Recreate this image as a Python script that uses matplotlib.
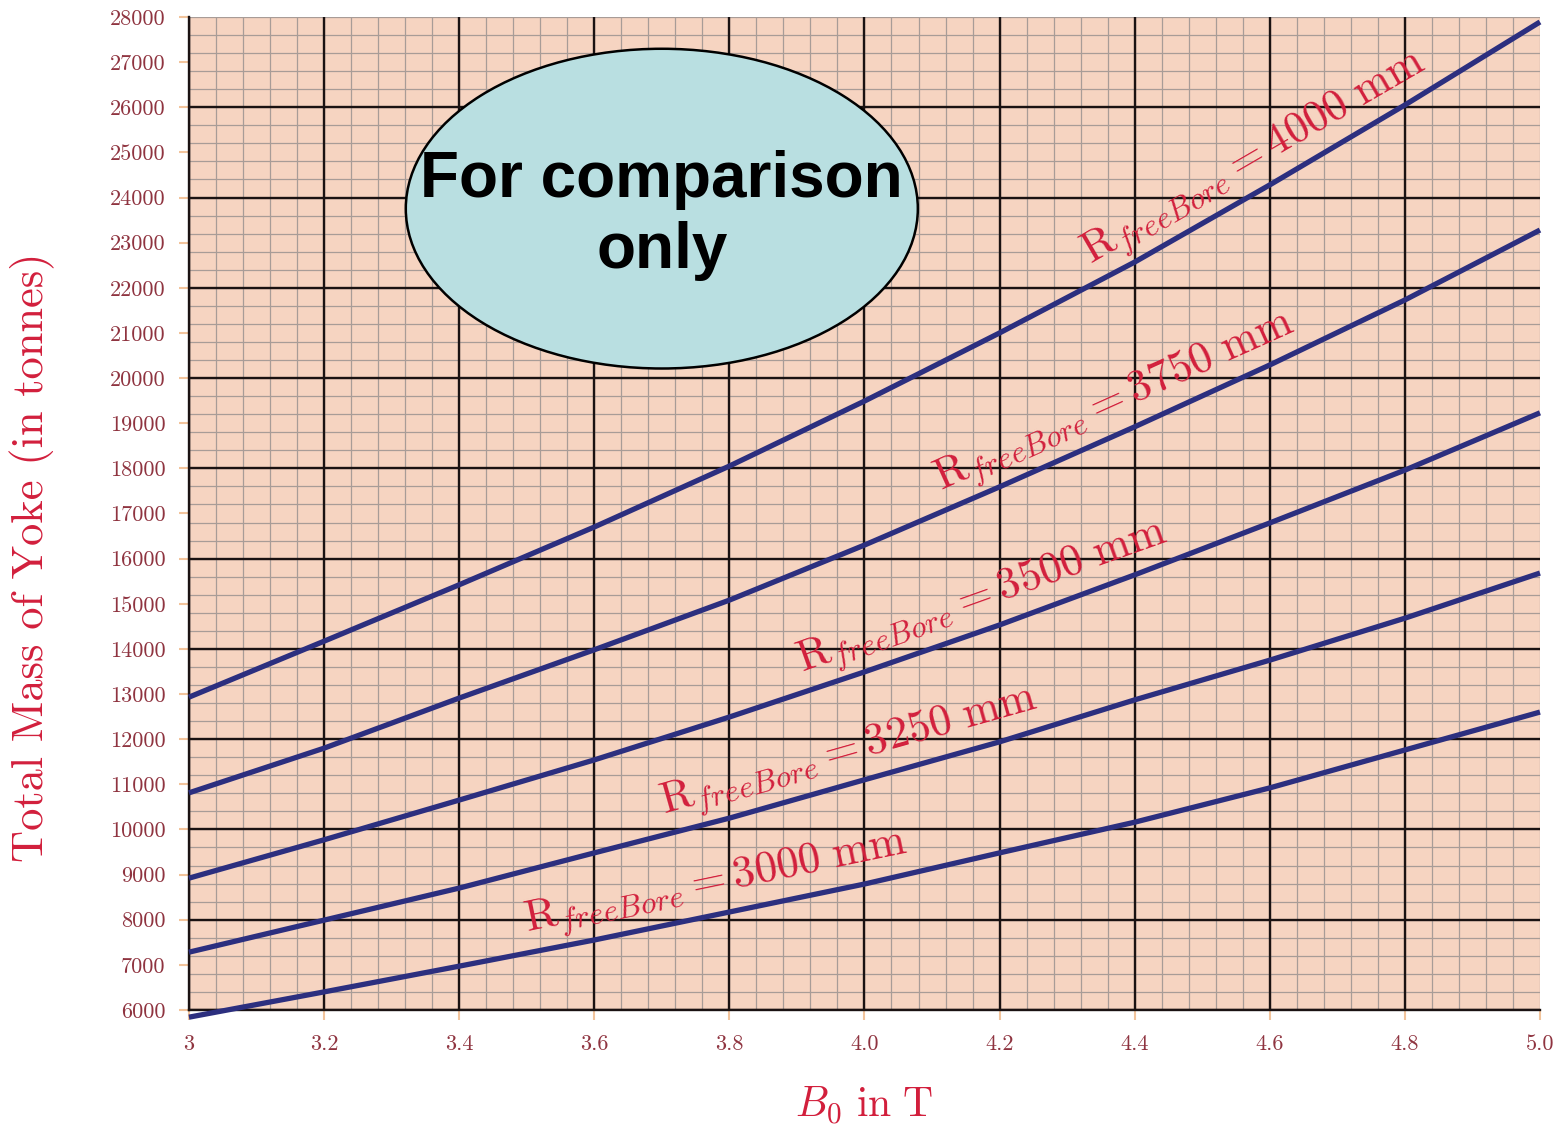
import numpy as np
import matplotlib
matplotlib.use("Agg")
import matplotlib.pyplot as plt
from matplotlib.patches import Ellipse

plt.rcParams['mathtext.fontset'] = 'cm'
plt.rcParams['font.family'] = ['cmr10', 'DejaVu Serif']
plt.rcParams['axes.formatter.use_mathtext'] = True

# ---- data ----
b0 = [3.0, 3.2, 3.4, 3.6, 3.8, 4.0, 4.2, 4.4, 4.6, 4.8, 5.0]
mass_3000 = [5840, 6400, 6970, 7550, 8170, 8790, 9480, 10160, 10920, 11760, 12600]
mass_3250 = [7280, 7990, 8700, 9480, 10250, 11100, 11940, 12870, 13750, 14680, 15680]
mass_3500 = [8920, 9770, 10650, 11540, 12490, 13490, 14530, 15640, 16790, 17960, 19230]
mass_3750 = [10810, 11800, 12910, 13980, 15080, 16300, 17590, 18920, 20290, 21730, 23280]
mass_4000 = [12930, 14170, 15420, 16700, 18050, 19490, 21000, 22570, 24280, 26050, 27890]
bore_radii = [3000, 3250, 3500, 3750, 4000]
label_x = [3.79, 3.99, 4.19, 4.39, 4.6]
x_tick_vals = [3.0, 3.2, 3.4, 3.6, 3.8, 4.0, 4.2, 4.4, 4.6, 4.8, 5.0]
x_tick_labels = ['3', '3.2', '3.4', '3.6', '3.8', '4.0', '4.2', '4.4', '4.6', '4.8', '5.0']
y_tick_vals = list(range(6000, 28001, 1000))

series = [mass_3000, mass_3250, mass_3500, mass_3750, mass_4000]

BG = '#f6d4c1'
LINE = '#2c2f7f'
RED = '#d21f3c'
TICKC = '#8f3440'

fig = plt.figure(figsize=(15.59, 11.33), dpi=100)
ax = fig.add_axes([0.1212, 0.1086, 0.8666, 0.8764])
ax.set_facecolor(BG)
ax.set_xlim(3.0, 5.0)
ax.set_ylim(6000, 28000)

# grid (manual so edges behave like the reference)
minor_x = np.arange(3.0, 5.0001, 0.04)
minor_y = np.arange(6000, 28001, 400)
ax.vlines(minor_x, 6000, 28000, colors='#a89c97', lw=0.9, zorder=1)
ax.hlines(minor_y, 3.0, 5.0, colors='#a89c97', lw=0.9, zorder=1)
major_x = [v for v in x_tick_vals if v < 4.99]
major_y = list(range(6000, 27000, 2000))
ax.vlines(major_x, 6000, 28000, colors='#1a1212', lw=1.7, zorder=2)
ax.hlines(major_y, 3.0, 5.0, colors='#1a1212', lw=1.7, zorder=2)

for s in ['top', 'right']:
    ax.spines[s].set_visible(False)
for s in ['left', 'bottom']:
    ax.spines[s].set_color('#1a1212')
    ax.spines[s].set_linewidth(1.7)

for ys in series:
    ax.plot(b0, ys, color=LINE, lw=3.8, zorder=4, clip_on=False, solid_capstyle='butt')

ax.set_xticks(x_tick_vals)
ax.set_xticklabels(x_tick_labels)
ax.set_yticks(y_tick_vals)
ax.set_yticklabels([str(v) for v in y_tick_vals])
ax.tick_params(axis='both', direction='out', length=7, width=1.5, color='#f2c49c',
               labelcolor=TICKC, labelsize=16)
ax.tick_params(axis='x', pad=11)
ax.tick_params(axis='y', pad=10)

ax.set_xlabel(r'$B_0\ \mathrm{in\ T}$', fontsize=30, color=RED, labelpad=22)
ax.set_ylabel('Total Mass of Yoke (in tonnes)', fontsize=32, color=RED)
ax.yaxis.set_label_coords(-0.099, 0.456)

# curve labels
fig.canvas.draw()
for r, ys, lx in zip(bore_radii, series, label_x):
    ly = np.interp(lx, b0, ys)
    p0 = ax.transData.transform((lx - 0.05, np.interp(lx - 0.05, b0, ys)))
    p1 = ax.transData.transform((lx + 0.05, np.interp(lx + 0.05, b0, ys)))
    ang = np.degrees(np.arctan2(p1[1] - p0[1], p1[0] - p0[0]))
    nx, ny = -np.sin(np.radians(ang)), np.cos(np.radians(ang))
    off = 22
    ax.annotate(r'$\mathrm{R}_{freeBore} = %d\ \mathrm{mm}$' % r, xy=(lx, ly),
                xytext=(nx * off, ny * off), textcoords='offset points',
                rotation=ang, rotation_mode='anchor', ha='center', va='center',
                fontsize=32, color=RED, zorder=5)

# overlay ellipse
ell = Ellipse((0.350, 0.807), 0.379, 0.322, transform=ax.transAxes,
              facecolor='#b9dfe1', edgecolor='black', lw=1.8, zorder=6, clip_on=False)
ax.add_patch(ell)
ax.text(0.350, 0.800, 'For comparison\nonly', transform=ax.transAxes,
        ha='center', va='center', fontsize=46, fontweight='bold',
        family=['Liberation Sans', 'DejaVu Sans'], color='black', zorder=7,
        linespacing=1.25)

fig.savefig('out.png', dpi=100, facecolor='white')
